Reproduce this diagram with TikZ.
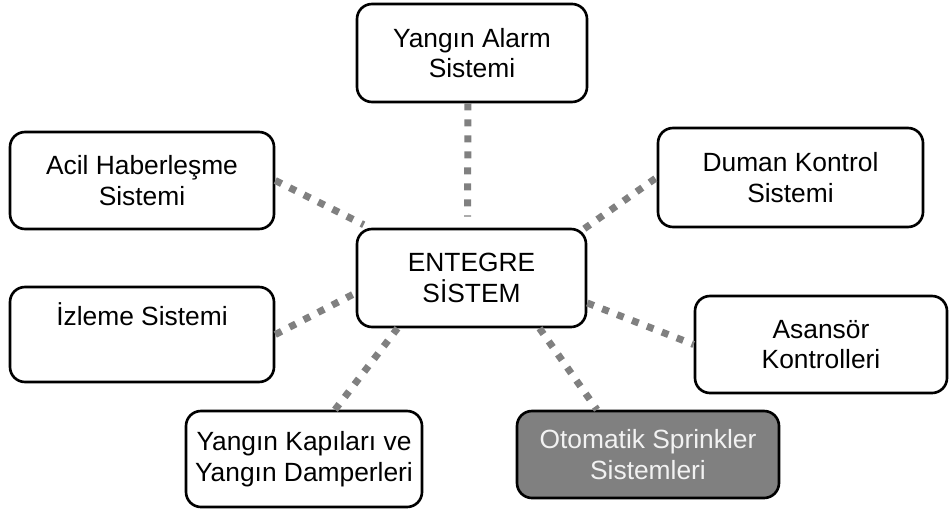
\documentclass[tikz,border=0pt]{standalone}
\usepackage{fontspec}
\setmainfont{Liberation Sans}

\begin{document}
\begin{tikzpicture}[
		box/.style={draw, line width=1.5pt, rounded corners=0.3cm, align=center, inner sep=0pt, font=\fontsize{15}{17.5}\selectfont},
		link/.style={draw=black!50, line width=0.14cm, dash pattern=on 0.14cm off 0.18cm}
	]
			\useasboundingbox (0,0) rectangle (18.98,10.18);
			\node[box, minimum width=4.6cm, minimum height=1.96cm] (alarm) at (9.44,9.12) {Yang\i n Alarm\\Sistemi};
			\node[box, minimum width=4.58cm, minimum height=1.96cm] (ent) at (9.43,4.62) {ENTEGRE\\S\.ISTEM};
			\node[box, minimum width=5.28cm, minimum height=1.94cm] (acil) at (2.84,6.57) {Acil Haberle\c sme\\Sistemi};
			\node[box, minimum width=5.28cm, minimum height=1.9cm] (izleme) at (2.84,3.49) {\.Izleme Sistemi\\\strut};
			\node[box, minimum width=5.3cm, minimum height=1.98cm] (duman) at (15.81,6.63) {Duman Kontrol\\Sistemi};
			\node[box, minimum width=5.04cm, minimum height=1.94cm] (asansor) at (16.42,3.29) {Asans\"or\\Kontrolleri};
			\node[box, minimum width=4.72cm, minimum height=1.92cm] (kapi) at (6.08,1.0) {Yang\i n Kap\i lar\i{} ve\\Yang\i n Damperleri};
			\node[box, fill=black!50, text=black!5, minimum width=5.24cm, minimum height=1.74cm] (oto) at (12.96,1.09) {Otomatik Sprinkler\\Sistemleri};
			% connectors
			\draw[link] ([xshift=-0.08cm]alarm.south) -- ([xshift=-0.08cm,yshift=0.22cm]ent.north);
			\draw[link] (acil.east) -- ([xshift=0.16cm,yshift=0.06cm]ent.north west);
			\draw[link] (izleme.east) -- ([yshift=-0.3cm]ent.west);
			\draw[link] ([xshift=0.62cm]kapi.north) -- ([xshift=-1.48cm]ent.south);
			\draw[link] ([xshift=1.36cm]ent.south) -- ([xshift=-1.02cm]oto.north);
			\draw[link] ([yshift=-0.5cm]ent.east) -- (asansor.west);
			\draw[link] ([xshift=-0.06cm,yshift=-0.02cm]ent.north east) -- (duman.west);
		\end{tikzpicture}
\end{document}
